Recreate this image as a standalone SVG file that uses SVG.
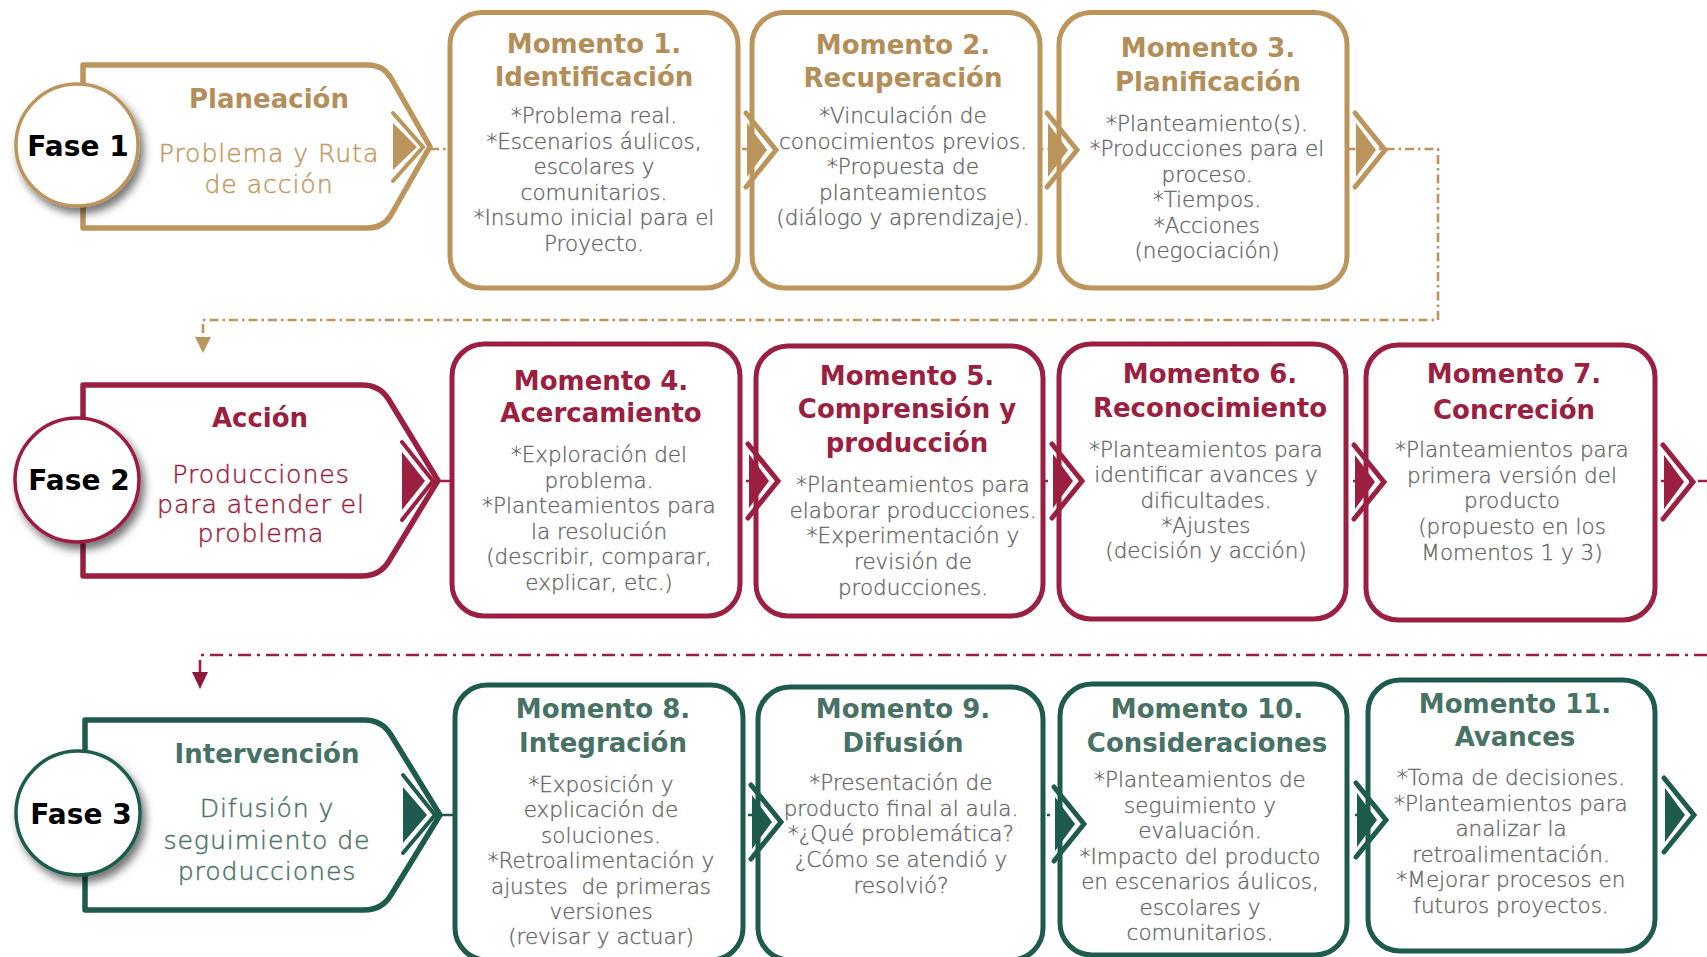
<svg xmlns="http://www.w3.org/2000/svg" width="1707" height="957" viewBox="0 0 1707 957">
<defs>
<style>
.bg{fill:#ffffff}
.box{fill:#ffffff;stroke-width:5}
.gold{stroke:#BC955C}
.mar{stroke:#9B1F40}
.grn{stroke:#1E5B4E}
.ttl{font-family:"DejaVu Sans",sans-serif;font-weight:700;font-size:26px;text-anchor:middle}
.body{font-family:"DejaVu Sans",sans-serif;font-weight:300;font-size:21.5px;fill:#666666;stroke:#666666;stroke-width:0.35px;text-anchor:middle}
.sub{font-family:"DejaVu Sans",sans-serif;font-weight:300;font-size:25.2px;text-anchor:middle;letter-spacing:0.9px;stroke-width:0.45px}
.fase{font-family:"DejaVu Sans",sans-serif;font-weight:700;font-size:28px;fill:#000;text-anchor:middle}
.tg{fill:#B48E59}
.tm{fill:#9B1F40}
.tn{fill:#487265}
.sg{fill:#BF9A62;stroke:#BF9A62}
.sm{fill:#9B1F40;stroke:#9B1F40}
.sn{fill:#4B7367;stroke:#4B7367}
.circ{fill:#ffffff;stroke-width:3.5}
.pent{fill:#ffffff;stroke-width:5.5;stroke-linejoin:round}
.dash{fill:none;stroke-width:2.6;stroke-dasharray:9 4 2.5 4}
.dash2{fill:none;stroke-width:2.6;stroke-dasharray:13 6 3 6}
.chl{fill:none;stroke-width:5;stroke-linecap:round;stroke-linejoin:miter}
</style>
<filter id="sh" x="-30%" y="-30%" width="170%" height="170%">
<feDropShadow dx="4" dy="6" stdDeviation="4" flood-color="#000" flood-opacity="0.55"/>
</filter>
<g id="chG"><polyline class="chl gold" points="0,-37 30,0 0,37"/><polygon fill="#BC955C" points="1,-27 21,0 1,27"/></g>
<g id="chM"><polyline class="chl mar" points="0,-37 30,0 0,37"/><polygon fill="#9B1F40" points="1,-27 21,0 1,27"/></g>
<g id="chN"><polyline class="chl grn" points="0,-37 30,0 0,37"/><polygon fill="#1E5B4E" points="1,-27 21,0 1,27"/></g>
</defs>
<rect class="bg" x="0" y="0" width="1707" height="957"/>

<g id="connectors">
<path class="dash gold" d="M430,149 H1438 V320 H203 V338"/>
<polygon fill="#BC955C" points="195,337 211,337 203,353"/>
<path class="dash2 mar" d="M438,481 H1707"/>
<path class="dash2 mar" d="M1707,655 H200 V673"/>
<polygon fill="#8E1A3B" points="192,672 208,672 200,689"/>
<path class="dash2 grn" d="M440,815 H1663"/>
</g>

<g id="fase1">
<path class="pent gold" d="M83,65 H368 Q383,65 391,78 L430,146.5 L391,215 Q383,228 368,228 H83 Z"/>
<polyline fill="none" stroke="#BC955C" stroke-width="4" stroke-linecap="round" points="393,113 423,147 393,181"/>
<polygon fill="#BC955C" points="393,123 417,147 393,170"/>
<text class="ttl tg" x="269" y="108">Planeación</text>
<text class="sub sg"><tspan x="269" y="162">Problema y Ruta</tspan><tspan x="269" y="193">de acción</tspan></text>
<circle class="circ gold" cx="77" cy="145" r="61" filter="url(#sh)"/>
<text class="fase" x="78" y="156">Fase 1</text>
</g>

<g id="m1">
<rect class="box gold" x="450" y="12.5" width="288" height="275.5" rx="32"/>
<text class="ttl tg"><tspan x="594" y="53">Momento 1.</tspan><tspan x="594" y="86">Identificación</tspan></text>
<text class="body"><tspan x="594" y="123">*Problema real.</tspan><tspan x="594" y="148.6">*Escenarios áulicos,</tspan><tspan x="594" y="174.2">escolares y</tspan><tspan x="594" y="199.8">comunitarios.</tspan><tspan x="594" y="225.4">*Insumo inicial para el</tspan><tspan x="594" y="251">Proyecto.</tspan></text>
</g>

<g id="m2">
<rect class="box gold" x="752" y="12.5" width="288" height="275.5" rx="32"/>
<text class="ttl tg"><tspan x="903" y="54">Momento 2.</tspan><tspan x="903" y="87">Recuperación</tspan></text>
<text class="body"><tspan x="903" y="123">*Vinculación de</tspan><tspan x="903" y="148.5">conocimientos previos.</tspan><tspan x="903" y="174">*Propuesta de</tspan><tspan x="903" y="199.5">planteamientos</tspan><tspan x="903" y="225">(diálogo y aprendizaje).</tspan></text>
</g>

<g id="m3">
<rect class="box gold" x="1059" y="12.5" width="288" height="275.5" rx="32"/>
<text class="ttl tg"><tspan x="1208" y="57">Momento 3.</tspan><tspan x="1208" y="91">Planificación</tspan></text>
<text class="body"><tspan x="1207" y="131">*Planteamiento(s).</tspan><tspan x="1207" y="156.4">*Producciones para el</tspan><tspan x="1207" y="181.8">proceso.</tspan><tspan x="1207" y="207.2">*Tiempos.</tspan><tspan x="1207" y="232.6">*Acciones</tspan><tspan x="1207" y="258">(negociación)</tspan></text>
</g>

<g id="fase2">
<path class="pent mar" d="M83,385 H362 Q380,385 389,400 L438,480.5 L389,561 Q380,576 362,576 H83 Z"/>
<polyline fill="none" stroke="#9B1F40" stroke-width="4" stroke-linecap="round" points="402,442 433,481 402,520"/>
<polygon fill="#9B1F40" points="402,452 425,481 402,510"/>
<text class="ttl tm" x="260" y="427">Acción</text>
<text class="sub sm"><tspan x="261" y="483">Producciones</tspan><tspan x="261" y="512.6">para atender el</tspan><tspan x="261" y="542.2">problema</tspan></text>
<circle class="circ mar" cx="77" cy="480" r="62" filter="url(#sh)"/>
<text class="fase" x="79" y="490">Fase 2</text>
</g>

<g id="m4">
<rect class="box mar" x="452" y="344" width="288" height="272" rx="32"/>
<text class="ttl tm"><tspan x="601" y="390">Momento 4.</tspan><tspan x="601" y="422">Acercamiento</tspan></text>
<text class="body"><tspan x="599" y="462">*Exploración del</tspan><tspan x="599" y="487.6">problema.</tspan><tspan x="599" y="513.2">*Planteamientos para</tspan><tspan x="599" y="538.8">la resolución</tspan><tspan x="599" y="564.4">(describir, comparar,</tspan><tspan x="599" y="590">explicar, etc.)</tspan></text>
</g>

<g id="m5">
<rect class="box mar" x="756" y="346" width="287" height="270" rx="32"/>
<text class="ttl tm"><tspan x="907" y="385">Momento 5.</tspan><tspan x="907" y="418">Comprensión y</tspan><tspan x="907" y="452">producción</tspan></text>
<text class="body"><tspan x="913" y="492">*Planteamientos para</tspan><tspan x="913" y="517.7">elaborar producciones.</tspan><tspan x="913" y="543.4">*Experimentación y</tspan><tspan x="913" y="569.1">revisión de</tspan><tspan x="913" y="595">producciones.</tspan></text>
</g>

<g id="m6">
<rect class="box mar" x="1059" y="344" width="287" height="275" rx="32"/>
<text class="ttl tm"><tspan x="1210" y="383">Momento 6.</tspan><tspan x="1210" y="417">Reconocimiento</tspan></text>
<text class="body"><tspan x="1206" y="457">*Planteamientos para</tspan><tspan x="1206" y="482.3">identificar avances y</tspan><tspan x="1206" y="507.6">dificultades.</tspan><tspan x="1206" y="532.9">*Ajustes</tspan><tspan x="1206" y="558.2">(decisión y acción)</tspan></text>
</g>

<g id="m7">
<rect class="box mar" x="1366" y="345" width="289" height="275" rx="32"/>
<text class="ttl tm"><tspan x="1514" y="383">Momento 7.</tspan><tspan x="1514" y="419">Concreción</tspan></text>
<text class="body"><tspan x="1512" y="457">*Planteamientos para</tspan><tspan x="1512" y="482.7">primera versión del</tspan><tspan x="1512" y="508.4">producto</tspan><tspan x="1512" y="534.1">(propuesto en los</tspan><tspan x="1512" y="560">Momentos 1 y 3)</tspan></text>
</g>

<g id="fase3">
<path class="pent grn" d="M85,720 H364 Q382,720 391,735 L440,815 L391,895 Q382,910 364,910 H85 Z"/>
<polyline fill="none" stroke="#1E5B4E" stroke-width="4" stroke-linecap="round" points="403,775 435,815 403,853"/>
<polygon fill="#1E5B4E" points="403,787 427,815 403,843"/>
<text class="ttl tn" x="267" y="763">Intervención</text>
<text class="sub sn"><tspan x="267" y="817">Difusión y</tspan><tspan x="267" y="848.5">seguimiento de</tspan><tspan x="267" y="880">producciones</tspan></text>
<circle class="circ grn" cx="78" cy="813" r="62" filter="url(#sh)"/>
<text class="fase" x="81" y="824">Fase 3</text>
</g>

<g id="m8">
<rect class="box grn" x="455" y="685" width="288" height="275" rx="32"/>
<text class="ttl tn"><tspan x="603" y="718">Momento 8.</tspan><tspan x="603" y="752">Integración</tspan></text>
<text class="body" xml:space="preserve"><tspan x="601" y="792">*Exposición y</tspan><tspan x="601" y="817.4">explicación de</tspan><tspan x="601" y="842.8">soluciones.</tspan><tspan x="601" y="868.2">*Retroalimentación y</tspan><tspan x="601" y="893.6">ajustes  de primeras</tspan><tspan x="601" y="919">versiones</tspan><tspan x="601" y="944.4">(revisar y actuar)</tspan></text>
</g>

<g id="m9">
<rect class="box grn" x="758" y="687" width="285" height="273" rx="32"/>
<text class="ttl tn"><tspan x="903" y="718">Momento 9.</tspan><tspan x="903" y="752">Difusión</tspan></text>
<text class="body"><tspan x="901" y="790">*Presentación de</tspan><tspan x="901" y="815.7">producto final al aula.</tspan><tspan x="901" y="841.4">*¿Qué problemática?</tspan><tspan x="901" y="867.1">¿Cómo se atendió y</tspan><tspan x="901" y="893">resolvió?</tspan></text>
</g>

<g id="m10">
<rect class="box grn" x="1060" y="684" width="287" height="271" rx="32"/>
<text class="ttl tn"><tspan x="1207" y="718">Momento 10.</tspan><tspan x="1207" y="752">Consideraciones</tspan></text>
<text class="body"><tspan x="1200" y="787">*Planteamientos de</tspan><tspan x="1200" y="812.5">seguimiento y</tspan><tspan x="1200" y="838">evaluación.</tspan><tspan x="1200" y="863.5">*Impacto del producto</tspan><tspan x="1200" y="889">en escenarios áulicos,</tspan><tspan x="1200" y="914.5">escolares y</tspan><tspan x="1200" y="940">comunitarios.</tspan></text>
</g>

<g id="m11">
<rect class="box grn" x="1368" y="680" width="287" height="271" rx="32"/>
<text class="ttl tn"><tspan x="1515" y="713">Momento 11.</tspan><tspan x="1515" y="746">Avances</tspan></text>
<text class="body"><tspan x="1511" y="785">*Toma de decisiones.</tspan><tspan x="1511" y="810.6">*Planteamientos para</tspan><tspan x="1511" y="836.2">analizar la</tspan><tspan x="1511" y="861.8">retroalimentación.</tspan><tspan x="1511" y="887.4">*Mejorar procesos en</tspan><tspan x="1511" y="913">futuros proyectos.</tspan></text>
</g>

<g id="chevrons">
<use href="#chG" x="746" y="150"/>
<use href="#chG" x="1047" y="150"/>
<use href="#chG" x="1355" y="150"/>
<use href="#chM" x="748" y="481"/>
<use href="#chM" x="1052" y="481"/>
<use href="#chM" x="1354" y="482"/>
<use href="#chM" x="1663" y="482"/>
<use href="#chN" x="751" y="822"/>
<use href="#chN" x="1054" y="824"/>
<use href="#chN" x="1356" y="820"/>
<use href="#chN" x="1664" y="815"/>
</g>
</svg>
